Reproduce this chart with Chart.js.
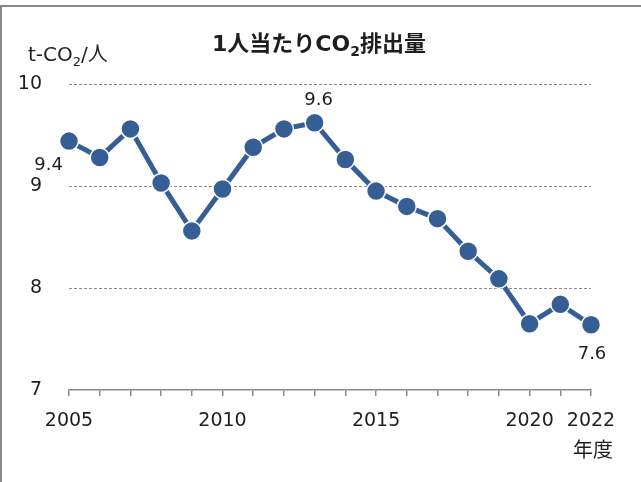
<!DOCTYPE html>
<html>
<head>
<meta charset="utf-8">
<script src="https://cdn.jsdelivr.net/npm/chart.js@4"></script>
<style>
  html, body { margin: 0; padding: 0; background: #fff; }
  #wrap { position: relative; width: 641px; height: 482px; overflow: hidden; }
  #frame { position: absolute; left: 0; top: 5px; width: 641px; height: 477px;
           border-top: 2px solid #878787; border-left: 2px solid #878787; box-sizing: border-box; }
  canvas { position: absolute; left: 0; top: 0; }
</style>
</head>
<body>
<div id="wrap">
  <div id="frame"></div>
  <canvas id="chart" width="641" height="482"></canvas>
</div>
<script>
// data
const years = [2005, 2006, 2007, 2008, 2009, 2010, 2011, 2012, 2013, 2014, 2015, 2016, 2017, 2018, 2019, 2020, 2021, 2022];
const co2PerCapita = [9.44, 9.28, 9.56, 9.03, 8.56, 8.97, 9.38, 9.56, 9.62, 9.26, 8.95, 8.80, 8.68, 8.36, 8.09, 7.65, 7.84, 7.64];
const yearTickLabels = [2005, 2010, 2015, 2020, 2022];
const labelledYears = [2005, 2013, 2022];

const FONT = "'DejaVu Sans', 'Noto Sans CJK JP', sans-serif";
const BLUE = "#355f94";
const TEXT = "#1e1e1e";

// draws text with a "2" subscript part, e.g. ["t-CO", "2", "/人"]
function drawSub(ctx, parts, x, y, size, weight, align) {
  const big = `${weight} ${size}px ${FONT}`;
  const small = `${weight} ${Math.round(size * 0.65)}px ${FONT}`;
  const widths = parts.map((p, i) => {
    ctx.font = i % 2 ? small : big;
    return ctx.measureText(p).width;
  });
  const total = widths.reduce((a, b) => a + b, 0);
  let cx = align === "center" ? x - total / 2 : x;
  ctx.textAlign = "left";
  ctx.textBaseline = "middle";
  parts.forEach((p, i) => {
    ctx.font = i % 2 ? small : big;
    ctx.fillText(p, cx, i % 2 ? y + size * 0.32 : y);
    cx += widths[i];
  });
}

const textPlugin = {
  id: "texts",
  afterDatasetsDraw(chart) {
    const ctx = chart.ctx;
    ctx.save();
    ctx.fillStyle = TEXT;
    drawSub(ctx, ["1人当たりCO", "2", "排出量"], 319, 45, 22, "bold", "center");
    drawSub(ctx, ["t-CO", "2", "/人"], 28, 56, 20, "normal", "left");

    ctx.font = `20px ${FONT}`;
    ctx.textBaseline = "middle";
    ctx.textAlign = "center";
    ctx.fillText("年度", 593, 452);

    // value labels, placed from the points
    ctx.font = `18px ${FONT}`;
    const meta = chart.getDatasetMeta(0);
    labelledYears.forEach(yr => {
      const i = years.indexOf(yr);
      const pt = meta.data[i];
      const txt = co2PerCapita[i].toFixed(1);
      if (i === 0) {
        ctx.textAlign = "right";
        ctx.fillText(txt, pt.x - 6, pt.y + 24);
      } else if (i === years.length - 1) {
        ctx.textAlign = "center";
        ctx.fillText(txt, pt.x + 1, pt.y + 30);
      } else {
        ctx.textAlign = "center";
        ctx.fillText(txt, pt.x + 4, pt.y - 22);
      }
    });
    ctx.restore();
  }
};

new Chart(document.getElementById("chart"), {
  type: "line",
  data: {
    datasets: [{
      data: years.map((y, i) => ({ x: y, y: co2PerCapita[i] })),
      borderColor: BLUE,
      backgroundColor: BLUE,
      borderWidth: 5,
      pointRadius: 9.5,
      pointBorderColor: "#fff",
      pointBorderWidth: 1.5,
      tension: 0,
      clip: false
    }]
  },
  options: {
    responsive: false,
    animation: false,
    events: [],
    layout: { padding: { top: 84, right: 50, bottom: 0, left: 0 } },
    plugins: { legend: { display: false }, tooltip: { enabled: false }, title: { display: false } },
    scales: {
      x: {
        type: "linear",
        min: 2005,
        max: 2022,
        afterFit(scale) { scale.height = 92; },
        grid: { drawOnChartArea: false, tickLength: 6, color: "#8a8a8a", lineWidth: 1.5 },
        border: { color: "#8a8a8a", width: 1.5 },
        ticks: {
          stepSize: 1,
          autoSkip: false,
          maxRotation: 0,
          maxTicksLimit: 30,
          padding: 14,
          color: TEXT,
          font: { family: FONT, size: 19 },
          callback: v => yearTickLabels.includes(v) ? String(v) : ""
        }
      },
      y: {
        min: 7,
        max: 10,
        afterFit(scale) { scale.width = 69; },
        grid: {
          drawTicks: false,
          color: c => c.tick.value === 7 ? "rgba(0,0,0,0)" : "#8a8a8a",
          lineWidth: 1
        },
        border: { display: false, dash: [3, 2] },
        ticks: {
          stepSize: 1,
          padding: 27,
          color: TEXT,
          font: { family: FONT, size: 19 }
        }
      }
    }
  },
  plugins: [textPlugin]
});
</script>
</body>
</html>
